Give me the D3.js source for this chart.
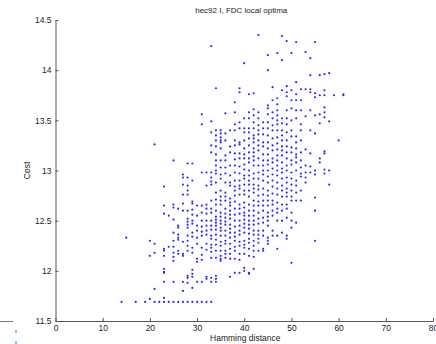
<!DOCTYPE html>
<html>
<head>
<meta charset="utf-8">
<script src="https://cdn.jsdelivr.net/npm/d3@7"></script>
<style>
  html, body { margin: 0; padding: 0; background: #fff; }
  svg { display: block; font-family: "Liberation Sans", Arial, sans-serif; }
</style>
</head>
<body>
<svg id="chart" width="436" height="344"></svg>
<script>
// ─── Data (one cost list per Hamming distance) ───
const distances = [14, 15, 17, 19, 20, 21, 22, 23, 24, 25, 26, 27, 28, 29, 30, 31, 32, 33, 34, 35, 36, 37,
  38, 39, 40, 41, 42, 43, 44, 45, 46, 47, 48, 49, 50, 51, 52, 53, 54, 55, 56, 57, 58, 59, 60, 61];

const costsByDistance = [
  [11.69],
  [12.33],
  [11.69],
  [11.69],
  [12.30, 12.15, 11.72],
  [13.26, 12.27, 12.18, 11.82, 11.69],
  [11.69],
  [12.84, 12.65, 12.57, 12.22, 12.20, 12.15, 12.02, 11.99, 11.98, 11.89, 11.73, 11.69],
  [12.55, 12.24, 11.69],
  [13.10, 12.66, 12.63, 12.51, 12.38, 12.30, 12.24, 12.18, 12.14, 12.10, 11.89, 11.69],
  [12.62, 12.45, 12.43, 12.36, 12.33, 12.31, 12.20, 12.17, 11.69],
  [12.96, 12.93, 12.86, 12.76, 12.67, 12.60, 12.29, 12.17, 12.15, 11.89, 11.80, 11.69],
  [13.07, 12.93, 12.85, 12.80, 12.76, 12.60, 12.52, 12.49, 12.46, 12.43, 12.35, 12.30, 12.25, 12.20,
   11.95, 11.93, 11.88, 11.69],
  [13.07, 12.90, 12.69, 12.67, 12.61, 12.56, 12.50, 12.47, 12.38, 12.34, 12.23, 12.18, 12.01, 11.97,
   11.94, 11.83, 11.69],
  [12.65, 12.55, 12.45, 12.40, 12.33, 12.27, 12.12, 12.09, 11.89, 11.69],
  [13.56, 13.46, 12.98, 12.65, 12.58, 12.50, 12.44, 12.39, 12.35, 12.23, 12.16, 12.11, 11.89, 11.69],
  [12.98, 12.85, 12.66, 12.62, 12.57, 12.50, 12.45, 12.40, 12.36, 12.27, 12.21, 11.94, 11.92, 11.69],
  [14.24, 13.49, 13.38, 13.25, 13.18, 12.98, 12.93, 12.89, 12.86, 12.70, 12.62, 12.58, 12.50, 12.45,
   12.41, 12.35, 12.32, 12.26, 12.23, 12.19, 12.13, 11.93, 11.89, 11.69],
  [13.82, 13.40, 13.35, 13.30, 13.24, 13.16, 13.10, 13.05, 13.00, 12.97, 12.88, 12.78, 12.71, 12.66,
   12.60, 12.54, 12.51, 12.48, 12.45, 12.41, 12.36, 12.31, 12.26, 12.20, 12.13, 11.95, 11.92, 11.89],
  [13.40, 13.37, 13.33, 13.30, 13.28, 13.22, 13.10, 13.03, 12.96, 12.92, 12.80, 12.74, 12.70, 12.66,
   12.58, 12.54, 12.50, 12.47, 12.43, 12.40, 12.35, 12.29, 12.25, 12.20, 12.15, 12.12, 12.10],
  [13.57, 13.37, 13.30, 13.15, 13.10, 13.03, 12.97, 12.88, 12.78, 12.74, 12.70, 12.62, 12.57, 12.53,
   12.49, 12.46, 12.40, 12.35, 12.30, 12.27, 12.20, 12.17, 12.13],
  [13.40, 13.24, 13.18, 13.05, 12.95, 12.88, 12.85, 12.72, 12.68, 12.65, 12.60, 12.56, 12.52, 12.46,
   12.42, 12.38, 12.33, 12.27, 12.22, 12.17, 12.12, 11.94],
  [13.68, 13.58, 13.46, 13.40, 13.30, 13.25, 13.17, 13.11, 13.05, 12.98, 12.90, 12.84, 12.80, 12.75,
   12.69, 12.62, 12.56, 12.50, 12.44, 12.38, 12.34, 12.30, 12.24, 12.20, 12.12, 11.98],
  [13.82, 13.78, 13.48, 13.42, 13.28, 13.26, 13.17, 13.12, 13.04, 12.97, 12.90, 12.85, 12.82, 12.76,
   12.66, 12.62, 12.57, 12.50, 12.45, 12.40, 12.36, 12.29, 12.25, 12.17, 12.11, 11.98],
  [14.07, 13.52, 13.42, 13.38, 13.30, 13.22, 13.16, 13.12, 13.06, 13.01, 12.95, 12.92, 12.86, 12.80,
   12.76, 12.68, 12.63, 12.58, 12.55, 12.51, 12.47, 12.43, 12.38, 12.30, 12.26, 12.23, 12.17, 12.03, 12.00],
  [13.76, 13.58, 13.52, 13.42, 13.38, 13.32, 13.25, 13.18, 13.12, 13.08, 13.00, 12.95, 12.90, 12.86,
   12.80, 12.74, 12.66, 12.60, 12.55, 12.50, 12.46, 12.42, 12.37, 12.32, 12.28, 12.22, 12.15, 11.98, 11.97],
  [13.77, 13.61, 13.55, 13.48, 13.42, 13.35, 13.32, 13.28, 13.22, 13.18, 13.14, 13.10, 13.05, 12.97,
   12.92, 12.86, 12.82, 12.78, 12.70, 12.65, 12.60, 12.55, 12.50, 12.46, 12.40, 12.36, 12.30, 12.25,
   12.20, 12.14, 12.02],
  [14.35, 13.58, 13.52, 13.45, 13.40, 13.36, 13.30, 13.25, 13.20, 13.12, 13.05, 12.98, 12.92, 12.85,
   12.81, 12.75, 12.69, 12.65, 12.58, 12.52, 12.47, 12.40, 12.36, 12.32, 12.28, 12.20],
  [13.48, 13.42, 13.36, 13.28, 13.24, 13.16, 13.10, 13.05, 13.00, 12.96, 12.90, 12.82, 12.76, 12.70,
   12.65, 12.60, 12.53, 12.48, 12.40, 12.35, 12.22, 12.20],
  [14.15, 14.00, 13.65, 13.62, 13.56, 13.48, 13.42, 13.35, 13.28, 13.22, 13.16, 13.10, 13.06, 13.00,
   12.94, 12.88, 12.80, 12.75, 12.70, 12.65, 12.58, 12.54, 12.50, 12.45, 12.33, 12.30, 12.27],
  [13.83, 13.70, 13.58, 13.52, 13.45, 13.40, 13.32, 13.25, 13.20, 13.12, 13.08, 13.02, 12.96, 12.90,
   12.84, 12.77, 12.70, 12.66, 12.60, 12.55, 12.40, 12.35],
  [14.17, 13.72, 13.66, 13.60, 13.55, 13.50, 13.46, 13.40, 13.33, 13.27, 13.21, 13.15, 13.10, 13.05,
   13.00, 12.95, 12.88, 12.82, 12.76, 12.68, 12.62, 12.58, 12.50, 12.35, 12.22],
  [14.34, 14.10, 13.80, 13.52, 13.47, 13.40, 13.35, 13.30, 13.24, 13.20, 13.15, 13.08, 13.02, 12.98,
   12.92, 12.85, 12.80, 12.74, 12.66, 12.60, 12.50, 12.38],
  [14.29, 13.84, 13.78, 13.74, 13.60, 13.52, 13.46, 13.38, 13.30, 13.24, 13.18, 13.12, 13.05, 13.00,
   12.93, 12.88, 12.82, 12.78, 12.74, 12.66, 12.62, 12.53, 12.35, 12.32],
  [14.17, 13.80, 13.70, 13.62, 13.50, 13.40, 13.34, 13.23, 13.18, 13.10, 13.06, 12.98, 12.92, 12.86,
   12.80, 12.74, 12.70, 12.58, 12.50, 12.43, 12.08],
  [14.28, 13.88, 13.76, 13.70, 13.60, 13.52, 13.34, 13.28, 13.22, 13.16, 13.13, 13.08, 13.00, 12.90,
   12.85, 12.78, 12.70, 12.48],
  [13.81, 13.70, 13.60, 13.46, 13.40, 13.30, 13.18, 13.10, 13.03, 12.97, 12.94, 12.80, 12.70],
  [14.18, 13.81, 13.54, 13.21, 13.05, 12.98, 12.93, 12.88],
  [14.12, 13.95, 13.81, 13.78, 13.60, 13.40, 13.17, 13.04, 12.98],
  [14.28, 13.77, 13.73, 13.55, 13.37, 13.00, 12.96, 12.73, 12.60, 12.30],
  [13.95, 13.75, 13.56, 13.47, 13.12, 13.08],
  [13.96, 13.80, 13.75, 13.63, 13.58, 13.53, 13.19, 13.17, 13.01, 12.97],
  [13.97, 13.49, 13.00, 12.86],
  [13.75],
  [13.30],
  [13.76, 13.75]
];

const xTicks = [0, 10, 20, 30, 40, 50, 60, 70, 80];
const yTicks = [11.5, 12, 12.5, 13, 13.5, 14, 14.5];

const titleText = 'hec92 I, FDC local optima';
const xLabel = 'Hamming distance';
const yLabel = 'Cost';

// ─── Layout ──────────────────────────────────────────────
const svg = d3.select('#chart');
const plot = { left: 55.5, right: 433, top: 20, bottom: 321 };
const axisColor = '#555';

const x = d3.scaleLinear().domain([0, 80]).range([plot.left, plot.right]);
const y = d3.scaleLinear().domain([11.5, 14.5]).range([plot.bottom, plot.top]);

const points = distances.flatMap((d, i) => costsByDistance[i].map(c => ({ d, c })));

// ─── Axes (ticks point inward, like MATLAB) ──────────────
const xAxis = svg.append('g')
  .attr('transform', `translate(0,${plot.bottom})`)
  .call(d3.axisBottom(x).tickValues(xTicks).tickSizeInner(-3).tickSizeOuter(0).tickPadding(4));

const yAxis = svg.append('g')
  .attr('transform', `translate(${plot.left},0)`)
  .call(d3.axisLeft(y).tickValues(yTicks).tickFormat(d3.format('')).tickSizeInner(-3).tickSizeOuter(0).tickPadding(4));

[xAxis, yAxis].forEach(g => {
  g.select('.domain').attr('stroke', axisColor).attr('stroke-width', 1);
  g.selectAll('.tick line').attr('stroke', axisColor);
  g.selectAll('.tick text').attr('fill', '#222').style('font-size', '8.5px');
});

// ─── Points ──────────────────────────────────────────────
svg.append('g').selectAll('circle')
  .data(points).join('circle')
  .attr('cx', p => x(p.d))
  .attr('cy', p => y(p.c))
  .attr('r', 1.1)
  .attr('fill', '#2a2aff');

// ─── Labels ──────────────────────────────────────────────
svg.append('text')
  .attr('x', (plot.left + plot.right) / 2 - 3).attr('y', 13)
  .attr('text-anchor', 'middle').attr('fill', '#222')
  .style('font-size', '8px')
  .text(titleText);

svg.append('text')
  .attr('x', (plot.left + plot.right) / 2 + 1).attr('y', 341)
  .attr('text-anchor', 'middle').attr('fill', '#222')
  .style('font-size', '8.5px')
  .text(xLabel);

svg.append('text')
  .attr('transform', `translate(30,${(plot.top + plot.bottom) / 2}) rotate(-90)`)
  .attr('text-anchor', 'middle').attr('fill', '#222')
  .style('font-size', '8.5px')
  .text(yLabel);

// stray marks at the lower left edge of the page
svg.append('line')
  .attr('x1', 0).attr('x2', 13).attr('y1', plot.bottom + 0.5).attr('y2', plot.bottom + 0.5)
  .attr('stroke', '#777');
svg.append('g').selectAll('rect')
  .data([330, 341]).join('rect')
  .attr('x', 15.5).attr('y', d => d).attr('width', 1).attr('height', 3)
  .attr('fill', '#2a6fbf');
</script>
</body>
</html>
